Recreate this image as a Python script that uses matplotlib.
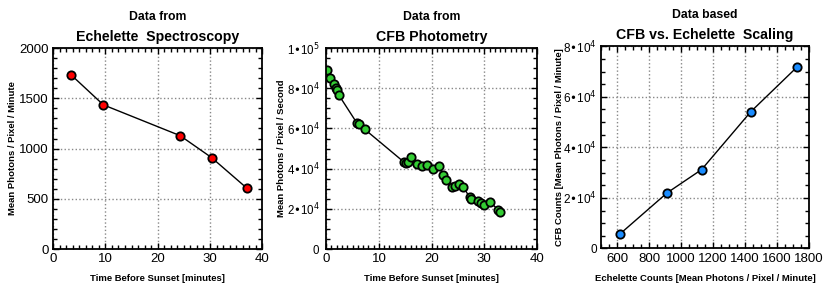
import numpy as np
import matplotlib
matplotlib.use('Agg')
import matplotlib.pyplot as plt
from matplotlib.ticker import MultipleLocator, FuncFormatter

# Echelette spectroscopy
t_ech = [3.4, 9.6, 24.3, 30.3, 37.0]
ech_counts = [1735, 1435, 1128, 910, 608]

# CFB photometry
t_cfb = [0.2, 0.7, 1.55, 1.8, 2.0, 2.35, 5.8, 6.2, 7.3,
         14.7, 15.2, 15.6, 16.1, 17.3, 18.2, 19.2, 20.3, 21.4, 22.2, 22.7,
         23.8, 24.4, 25.2, 26.0, 27.2, 27.5, 28.8, 29.4, 30.0, 31.1, 32.6, 33.0]
cfb_counts = [89000, 85000, 82000, 80300, 79300, 76800, 62800, 62100, 59600,
              43400, 43000, 43200, 45900, 42200, 41200, 41800, 40000, 41300, 36800, 34500,
              31000, 31500, 32200, 31000, 25800, 25000, 23700, 23000, 22100, 23400, 19600, 18500]

# scaling
scale_ech = [620, 913, 1128, 1435, 1724]
scale_cfb = [5800, 22000, 31200, 54100, 71800]

plt.rcParams['font.family'] = ['Liberation Sans', 'DejaVu Sans']
bold = dict(fontweight='bold')


def sci_fmt(v, pos):
    if v == 0:
        return '0'
    e = int(np.floor(np.log10(abs(v))))
    m = v / 10**e
    return '%d\u2022' % round(m) + '10$^{%d}$' % e


def style_axis(ax, xmaj, xmin, ymaj, ymin):
    ax.xaxis.set_major_locator(MultipleLocator(xmaj))
    ax.xaxis.set_minor_locator(MultipleLocator(xmin))
    ax.yaxis.set_major_locator(MultipleLocator(ymaj))
    ax.yaxis.set_minor_locator(MultipleLocator(ymin))
    ax.tick_params(which='both', direction='in', top=True, right=True, labelsize=9.5, pad=3)
    ax.tick_params(which='major', length=4, width=1)
    ax.tick_params(which='minor', length=3, width=1)
    ax.grid(True, which='major', linestyle=':', color='#888888', linewidth=1)
    ax.set_axisbelow(True)
    for s in ax.spines.values():
        s.set_linewidth(1.3)


def labels(ax, line1, line2, xlab, ylab, ylab_x):
    ax.text(0.5, 1.14, line1, transform=ax.transAxes, ha='center', va='baseline',
            fontsize=8.8, **bold)
    ax.text(0.5, 1.035, line2, transform=ax.transAxes, ha='center', va='baseline',
            fontsize=10.2, **bold)
    ax.set_xlabel(xlab, fontsize=6.8, **bold)
    ax.set_ylabel(ylab, fontsize=6.8, **bold)
    ax.xaxis.set_label_coords(0.5, -0.125)
    ax.yaxis.set_label_coords(ylab_x, 0.5)


fig = plt.figure(figsize=(8.3, 2.93), dpi=100)
ax1 = fig.add_axes([0.064, 0.150, 0.252, 0.686])
ax2 = fig.add_axes([0.393, 0.150, 0.254, 0.686])
ax3 = fig.add_axes([0.724, 0.152, 0.251, 0.690])

mk = dict(marker='o', markersize=6, markeredgecolor='black', markeredgewidth=1.3,
          color='black', linewidth=1)

ax1.plot(t_ech, ech_counts, markerfacecolor='#ff0000', **mk)
ax1.set_xlim(0, 40)
ax1.set_ylim(0, 2000)
style_axis(ax1, 10, 1.25, 500, 100)
labels(ax1, 'Data from', 'Echelette  Spectroscopy',
       'Time Before Sunset [minutes]', 'Mean Photons / Pixel / Minute', -0.175)

ax2.plot(t_cfb, cfb_counts, markerfacecolor='#33cc33', **mk)
ax2.set_xlim(0, 40)
ax2.set_ylim(0, 100000)
style_axis(ax2, 10, 1, 20000, 5000)
ax2.yaxis.set_major_formatter(FuncFormatter(sci_fmt))
ax2.tick_params(axis='y', labelsize=8.3, pad=5)
labels(ax2, 'Data from', 'CFB Photometry',
       'Time Before Sunset [minutes]', 'Mean Photons / Pixel / Second', -0.19)

ax3.plot(scale_ech, scale_cfb, markerfacecolor='#1a8cff', **mk)
ax3.set_xlim(500, 1800)
ax3.set_ylim(0, 80000)
style_axis(ax3, 200, 50, 20000, 5000)
ax3.xaxis.set_major_locator(plt.FixedLocator([600, 800, 1000, 1200, 1400, 1600, 1800]))
ax3.yaxis.set_major_formatter(FuncFormatter(sci_fmt))
ax3.tick_params(axis='y', labelsize=8.5, pad=3)
labels(ax3, 'Data based', 'CFB vs. Echelette  Scaling',
       'Echelette Counts [Mean Photons / Pixel / Minute]',
       'CFB Counts [Mean Photons / Pixel / Minute]', -0.178)

fig.savefig('out.png', dpi=100)
